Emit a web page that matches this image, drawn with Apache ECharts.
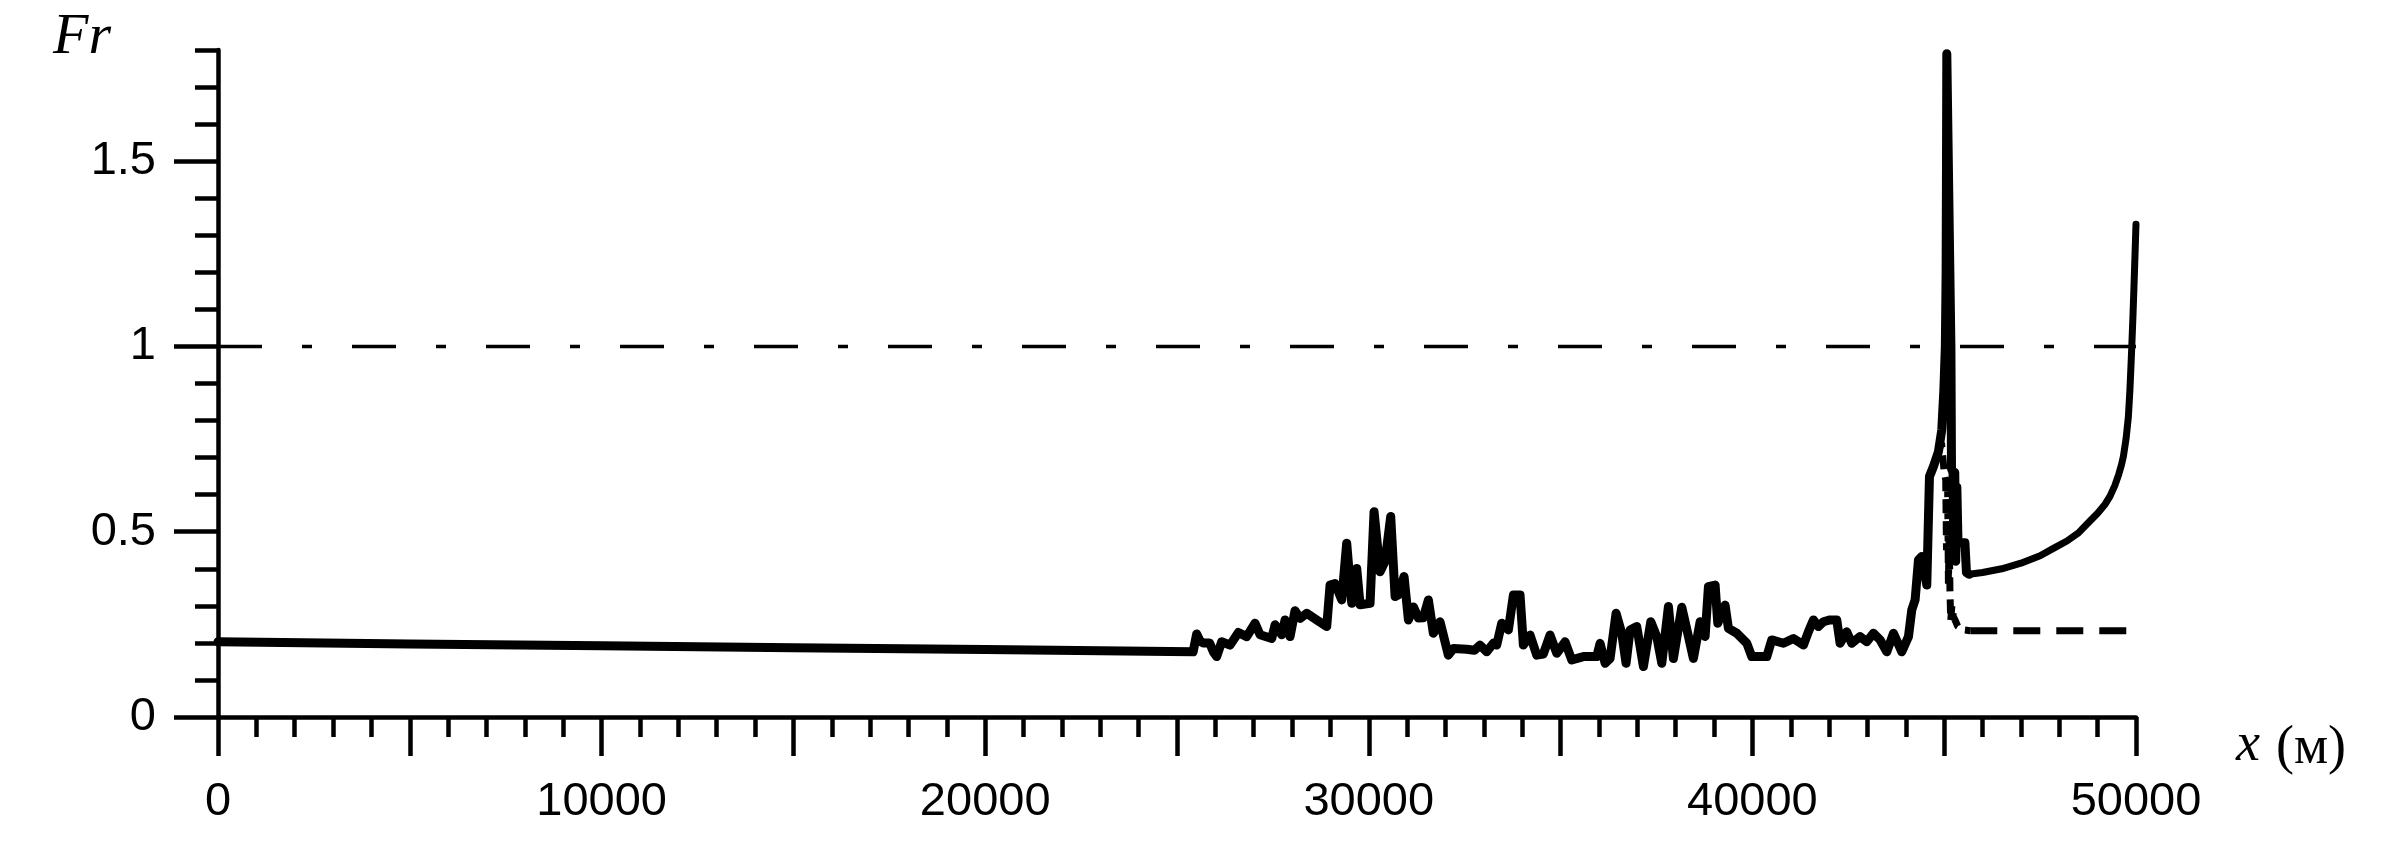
<!DOCTYPE html>
<html>
<head>
<meta charset="utf-8">
<script src="https://cdn.jsdelivr.net/npm/echarts@6/dist/echarts.min.js"></script>
<style>
  html, body { margin: 0; padding: 0; background: #fff; }
  #chart { width: 2406px; height: 846px; }
</style>
</head>
<body>
<div id="chart"></div>
<script>
// x (м) and Fr
let frSolid = [
  [0, 0.203], [5000, 0.197], [10000, 0.192], [15000, 0.187], [20000, 0.182],
  [25420, 0.176], [25513, 0.224], [25600, 0.205], [25680, 0.2], [25850, 0.2],
  [25950, 0.175], [26035, 0.163], [26165, 0.203], [26383, 0.194], [26600, 0.228],
  [26817, 0.217], [27035, 0.253], [27165, 0.222], [27470, 0.212], [27556, 0.249],
  [27730, 0.222], [27817, 0.262], [27947, 0.217], [28077, 0.287], [28208, 0.266],
  [28382, 0.28], [28643, 0.262], [28903, 0.244], [28990, 0.356], [29120, 0.36],
  [29294, 0.316], [29424, 0.469], [29555, 0.307], [29685, 0.401], [29772, 0.303],
  [30033, 0.307], [30137, 0.554], [30293, 0.392], [30424, 0.42], [30571, 0.541],
  [30685, 0.325], [30772, 0.33], [30919, 0.379], [31033, 0.262], [31163, 0.297],
  [31294, 0.267], [31420, 0.268], [31553, 0.316], [31683, 0.226], [31857, 0.257],
  [32074, 0.167], [32205, 0.185], [32552, 0.183], [32750, 0.18], [32900, 0.194],
  [33074, 0.176], [33247, 0.199], [33335, 0.194], [33465, 0.253], [33639, 0.235],
  [33769, 0.329], [33943, 0.329], [34030, 0.194], [34204, 0.221], [34378, 0.167],
  [34550, 0.17], [34725, 0.221], [34899, 0.172], [35117, 0.203], [35291, 0.154],
  [35595, 0.163], [35943, 0.163], [36029, 0.199], [36160, 0.145], [36290, 0.158],
  [36446, 0.28], [36594, 0.226], [36707, 0.145], [36811, 0.235], [36985, 0.244],
  [37159, 0.136], [37351, 0.257], [37507, 0.217], [37638, 0.145], [37811, 0.298],
  [37941, 0.158], [38159, 0.296], [38333, 0.217], [38462, 0.158], [38637, 0.257],
  [38767, 0.217], [38854, 0.352], [39028, 0.356], [39097, 0.253], [39288, 0.302],
  [39375, 0.239], [39593, 0.226], [39854, 0.199], [39984, 0.163], [40375, 0.163],
  [40504, 0.208], [40809, 0.199], [41070, 0.212], [41330, 0.194], [41460, 0.23],
  [41590, 0.262], [41720, 0.244], [41851, 0.257], [42025, 0.262], [42199, 0.262],
  [42286, 0.199], [42459, 0.23], [42590, 0.199], [42807, 0.217], [42981, 0.203],
  [43155, 0.226], [43330, 0.208], [43504, 0.176], [43678, 0.226], [43895, 0.176],
  [44068, 0.217], [44155, 0.289], [44242, 0.316], [44329, 0.424], [44416, 0.433],
  [44546, 0.356], [44616, 0.649], [44720, 0.676], [44850, 0.716], [44937, 0.775],
  [44990, 0.88], [45030, 1.0], [45050, 1.2], [45060, 1.5], [45068, 1.79],
  [45080, 1.79], [45175, 1.0], [45190, 0.67], [45230, 0.66], [45250, 0.45],
  [45275, 0.66], [45300, 0.42], [45330, 0.62], [45360, 0.47], [45540, 0.47],
  [45580, 0.39], [45650, 0.385]
];
// rise towards the end of the reach
let frTail = [
  [45650, 0.385], [46000, 0.39], [46500, 0.4], [47000, 0.415], [47500, 0.435],
  [47846, 0.455], [48200, 0.475], [48500, 0.497], [48717, 0.52], [49000, 0.55],
  [49200, 0.575], [49324, 0.596], [49450, 0.625], [49550, 0.655], [49620, 0.68],
  [49671, 0.703], [49740, 0.75], [49801, 0.81], [49840, 0.88], [49870, 0.95],
  [49890, 1.0], [49920, 1.08], [49950, 1.17], [49975, 1.25], [50000, 1.33]
];
// dashed curve where it leaves the solid one
let frDashed = [
  [44850, 0.716], [44930, 0.74], [45000, 0.66], [45040, 0.64], [45060, 0.45],
  [45090, 0.62], [45110, 0.36], [45130, 0.5], [45150, 0.34], [45170, 0.26],
  [45200, 0.3], [45240, 0.27], [45290, 0.26], [45350, 0.245], [45500, 0.235],
  [45680, 0.233]
];
let frDashedFlat = [[45680, 0.233], [50000, 0.233]];
let frCritical = [[0, 1], [50000, 1]];

let xLabelValues = [0, 10000, 20000, 30000, 40000, 50000];
let yLabelValues = [0, 0.5, 1, 1.5];

let myChart = echarts.init(document.getElementById('chart'), null, { renderer: 'canvas' });

let sansFont = '"Liberation Sans", Arial, sans-serif';
let serifFont = '"Liberation Serif", "Times New Roman", serif';
let lineW = 9;
let axisW = 4.5;

myChart.setOption({
  animation: false,
  backgroundColor: '#fff',
  grid: { left: 218, right: 270, top: 50, bottom: 129, containLabel: false },
  xAxis: {
    type: 'value', min: 0, max: 50000, interval: 5000,
    axisLine: { show: true, lineStyle: { color: '#000', width: axisW } },
    axisTick: { show: true, length: 39, lineStyle: { color: '#000', width: axisW } },
    minorTick: { show: true, splitNumber: 5, length: 20, lineStyle: { color: '#000', width: axisW } },
    splitLine: { show: false },
    axisLabel: {
      interval: 0, margin: 62, color: '#000', fontSize: 47, fontFamily: sansFont,
      formatter: function (v) { return xLabelValues.indexOf(v) >= 0 ? String(v) : ''; }
    }
  },
  yAxis: [{
    // major ticks and labels
    type: 'value', min: 0, max: 1.8, position: 'left',
    axisLine: { show: true, lineStyle: { color: '#000', width: axisW } },
    axisTick: { show: true, length: 44, customValues: yLabelValues, lineStyle: { color: '#000', width: axisW } },
    splitLine: { show: false },
    axisLabel: {
      margin: 62, color: '#000', fontSize: 47, fontFamily: sansFont,
      customValues: yLabelValues,
      formatter: function (v) { return String(v); }
    }
  }, {
    // minor ticks every 0.1
    type: 'value', min: 0, max: 1.8, interval: 0.1, position: 'left',
    axisLine: { show: false },
    axisTick: { show: true, length: 23, lineStyle: { color: '#000', width: axisW } },
    splitLine: { show: false },
    axisLabel: { show: false }
  }],
  graphic: [
    { type: 'text', x: 82, y: 38, style: { text: 'Fr', font: 'italic 58px ' + serifFont, fill: '#000', align: 'center', verticalAlign: 'middle' } },
    { type: 'text', x: 2248, y: 746, style: { text: 'x', font: 'italic 54px ' + serifFont, fill: '#000', align: 'center', verticalAlign: 'middle' } },
    { type: 'text', x: 2311, y: 749, style: { text: '(м)', font: '54px ' + serifFont, fill: '#000', align: 'center', verticalAlign: 'middle' } }
  ],
  series: [
    {
      name: 'Fr = 1', type: 'line', data: frCritical, showSymbol: false, silent: true,
      lineStyle: { color: '#000', width: 3.5, type: [44, 40, 10, 40] }
    },
    {
      name: 'dashed', type: 'line', data: frDashed, showSymbol: false, silent: true,
      lineStyle: { color: '#000', width: 7, type: [14, 8] }
    },
    {
      name: 'dashed flat', type: 'line', data: frDashedFlat, showSymbol: false, silent: true,
      lineStyle: { color: '#000', width: 7, type: [27, 16] }
    },
    {
      name: 'Fr', type: 'line', data: frSolid, showSymbol: false, silent: true, sampling: null,
      lineStyle: { color: '#000', width: lineW, join: 'round', cap: 'round' }
    },
    {
      name: 'Fr tail', type: 'line', data: frTail, showSymbol: false, silent: true,
      lineStyle: { color: '#000', width: 7, join: 'round', cap: 'round' }
    }
  ]
});
</script>
</body>
</html>
